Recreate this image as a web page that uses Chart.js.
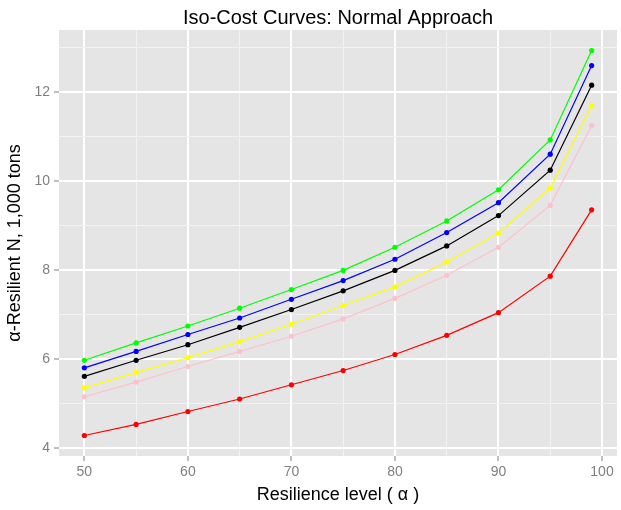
<!DOCTYPE html>
<html>
<head>
<meta charset="utf-8">
<script src="https://cdn.jsdelivr.net/npm/chart.js@4"></script>
<style>
  html, body { margin: 0; padding: 0; background: #ffffff; }
  #wrap { width: 621px; height: 510px; position: relative; }
</style>
</head>
<body>
<div id="wrap"><canvas id="c" width="621" height="510"></canvas></div>
<script>
// ---- data ----
const alphaLevels = [50, 55, 60, 65, 70, 75, 80, 85, 90, 95, 99];
const greenSeries  = [5.97, 6.36, 6.74, 7.14, 7.56, 7.99, 8.51, 9.10, 9.80, 10.92, 12.93];
const blueSeries   = [5.80, 6.17, 6.55, 6.92, 7.34, 7.76, 8.24, 8.84, 9.51, 10.60, 12.59];
const blackSeries  = [5.61, 5.97, 6.32, 6.71, 7.11, 7.53, 7.99, 8.54, 9.22, 10.24, 12.15];
const yellowSeries = [5.35, 5.70, 6.03, 6.39, 6.78, 7.20, 7.62, 8.18, 8.83, 9.84, 11.69];
const pinkSeries   = [5.15, 5.48, 5.83, 6.17, 6.51, 6.90, 7.36, 7.88, 8.51, 9.45, 11.24];
const redSeries    = [4.28, 4.53, 4.82, 5.10, 5.42, 5.74, 6.10, 6.53, 7.04, 7.86, 9.35];
const xMajorTicks = [50, 60, 70, 80, 90, 100];
const xMinorTicks = [55, 65, 75, 85, 95];
const yMajorTicks = [4, 6, 8, 10, 12];
const yMinorTicks = [5, 7, 9, 11, 13];
const titleText = 'Iso-Cost Curves: Normal Approach';
const xTitleText = 'Resilience level ( \u03B1 )';
const yTitleText = '\u03B1-Resilient N, 1,000 tons';

const seriesList = [
  { values: greenSeries,  color: '#00FF00' },
  { values: blueSeries,   color: '#0000FF' },
  { values: blackSeries,  color: '#000000' },
  { values: yellowSeries, color: '#FFFF00' },
  { values: pinkSeries,   color: '#FFC0CB' },
  { values: redSeries,    color: '#FF0000' }
];

const FONT = '"Liberation Sans", Arial, sans-serif';

const datasets = seriesList.map(s => ({
  data: alphaLevels.map((x, i) => ({ x: x, y: s.values[i] })),
  borderColor: s.color,
  backgroundColor: s.color,
  borderWidth: 1.2,
  pointRadius: 2.6,
  pointBorderWidth: 0,
  pointBackgroundColor: s.color,
  tension: 0,
  fill: false
}));

function isMinor(list, v) { return list.some(m => Math.abs(m - v) < 1e-9); }

const panelPlugin = {
  id: 'panel',
  beforeDraw(chart) {
    const { ctx, chartArea: a } = chart;
    ctx.save();
    ctx.fillStyle = '#E5E5E5';
    ctx.fillRect(a.left, a.top, a.right - a.left, a.bottom - a.top);
    ctx.restore();
  },
  afterDraw(chart) {
    const { ctx, chartArea: a } = chart;
    const cx = (a.left + a.right) / 2;
    const cy = (a.top + a.bottom) / 2;
    ctx.save();
    ctx.fillStyle = '#000000';
    ctx.textAlign = 'center';
    ctx.textBaseline = 'middle';
    ctx.font = '20px ' + FONT;
    ctx.fillText(titleText, cx, 18);
    ctx.font = '18px ' + FONT;
    ctx.fillText(xTitleText, cx, 495);
    ctx.translate(15, cy);
    ctx.rotate(-Math.PI / 2);
    ctx.fillText(yTitleText, 0, 0);
    ctx.restore();
  }
};

new Chart(document.getElementById('c'), {
  type: 'line',
  data: { datasets: datasets },
  plugins: [panelPlugin],
  options: {
    responsive: false,
    animation: false,
    layout: { padding: { top: 30, left: 0, right: 0, bottom: 0 } },
    plugins: { legend: { display: false }, title: { display: false }, tooltip: { enabled: false } },
    scales: {
      x: {
        type: 'linear',
        min: 47.55,
        max: 101.45,
        afterBuildTicks(scale) {
          scale.ticks = xMajorTicks.concat(xMinorTicks).sort((a, b) => a - b).map(v => ({ value: v }));
        },
        afterFit(scale) { scale.height = 54; },
        border: { display: false },
        grid: {
          color: ctx => isMinor(xMinorTicks, ctx.tick.value) ? '#F2F2F2' : '#FFFFFF',
          lineWidth: ctx => isMinor(xMinorTicks, ctx.tick.value) ? 1 : 2,
          tickColor: ctx => isMinor(xMinorTicks, ctx.tick.value) ? 'rgba(0,0,0,0)' : '#7F7F7F',
          tickWidth: 1,
          tickLength: 5,
          drawTicks: true
        },
        ticks: {
          autoSkip: false,
          maxRotation: 0,
          padding: 3,
          color: '#7F7F7F',
          font: { family: FONT, size: 14 },
          callback: v => isMinor(xMinorTicks, v) ? '' : String(v)
        }
      },
      y: {
        type: 'linear',
        min: 3.82,
        max: 13.39,
        afterBuildTicks(scale) {
          scale.ticks = yMajorTicks.concat(yMinorTicks).sort((a, b) => a - b).map(v => ({ value: v }));
        },
        afterFit(scale) { scale.width = 59; },
        border: { display: false },
        grid: {
          color: ctx => isMinor(yMinorTicks, ctx.tick.value) ? '#F2F2F2' : '#FFFFFF',
          lineWidth: ctx => isMinor(yMinorTicks, ctx.tick.value) ? 1 : 2,
          tickColor: ctx => isMinor(yMinorTicks, ctx.tick.value) ? 'rgba(0,0,0,0)' : '#7F7F7F',
          tickWidth: 1,
          tickLength: 5,
          drawTicks: true
        },
        ticks: {
          autoSkip: false,
          padding: 4,
          color: '#7F7F7F',
          font: { family: FONT, size: 14 },
          callback: v => isMinor(yMinorTicks, v) ? '' : String(v)
        }
      }
    }
  }
});
</script>
</body>
</html>
